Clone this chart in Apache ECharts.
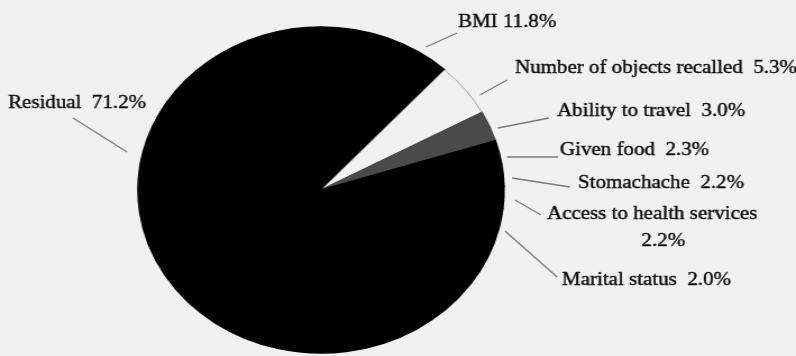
<!DOCTYPE html>
<html>
<head>
<meta charset="utf-8">
<script src="https://cdn.jsdelivr.net/npm/echarts@6/dist/echarts.min.js"></script>
<style>
  html, body { margin: 0; padding: 0; background: #f1f1f1; }
  #wrap { position: relative; width: 796px; height: 356px; overflow: hidden; }
  /* the whole figure is drawn slightly wider than tall */
  #chart { position: absolute; left: 0; top: 0; width: 709px; height: 356px;
           transform: scaleX(1.1227); transform-origin: 0 0; }
</style>
</head>
<body>
<div id="wrap">
  <div id="chart"></div>
</div>
<script>
// Share of variance by factor, clockwise from 12 o'clock
const factors = ['BMI', 'Number of objects recalled', 'Ability to travel', 'Given food',
                 'Stomachache', 'Access to health services', 'Marital status', 'Residual'];
const shares = [11.8, 5.3, 3.0, 2.3, 2.2, 2.2, 2.0, 71.2];

// slice fills
const fills = ['#000000', '#f1f1f1', '#4a4a4a', '#000000', '#000000', '#000000', '#000000', '#000000'];

const STRETCH = 1.1227;

// label placement on the page: [left x, middle y] and leader line [from, to]
const labelAt = [[458, 22], [515, 68], [557, 111], [560, 150], [578, 183], [547, 228], [562, 280], [8, 103]];
const leaders = [
  [[426, 47], [457, 33]],
  [[480, 95], [507, 80]],
  [[498, 128], [549, 118]],
  [[507, 157], [558, 157]],
  [[512, 178], [570, 187]],
  [[515, 200], [541, 215]],
  [[505, 231], [557, 277]],
  [[127, 152], [73, 118]]
];
const unstretch = p => [p[0] / STRETCH, p[1]];

const seriesData = factors.map((name, i) => ({
  name: name,
  value: shares[i],
  itemStyle: i === 1
    ? { color: fills[i], borderColor: '#8c8c8c', borderWidth: 0.8 }
    : { color: fills[i], borderColor: fills[i], borderWidth: 1.5 }
}));

function labelText(p) {
  const v = p.value.toFixed(1) + '%';
  if (p.name === 'Access to health services') return p.name + '\n                  ' + v;
  if (p.name === 'BMI') return p.name + ' ' + v;
  return p.name + '  ' + v;
}

const chart = echarts.init(document.getElementById('chart'), null, { renderer: 'canvas' });
chart.setOption({
  animation: false,
  series: [{
    type: 'pie',
    center: [321 / STRETCH, 190],
    radius: [0, 163],
    startAngle: 90,
    clockwise: true,
    silent: true,
    label: {
      show: true,
      formatter: labelText,
      fontFamily: 'Liberation Serif',
      fontSize: 18.7,
      lineHeight: 27,
      overflow: 'none',
      color: '#0a0a0a',
      textBorderColor: '#0a0a0a',
      textBorderWidth: 0.4
    },
    labelLine: { show: true, lineStyle: { color: '#7a7a7a', width: 1.3 } },
    labelLayout: function (params) {
      const i = params.dataIndex;
      const a = unstretch(leaders[i][0]), b = unstretch(leaders[i][1]);
      return {
        x: labelAt[i][0] / STRETCH,
        y: labelAt[i][1],
        align: 'left',
        verticalAlign: 'middle',
        width: 400,
        labelLinePoints: [a, b, b]
      };
    },
    data: seriesData
  }]
});
</script>
</body>
</html>
